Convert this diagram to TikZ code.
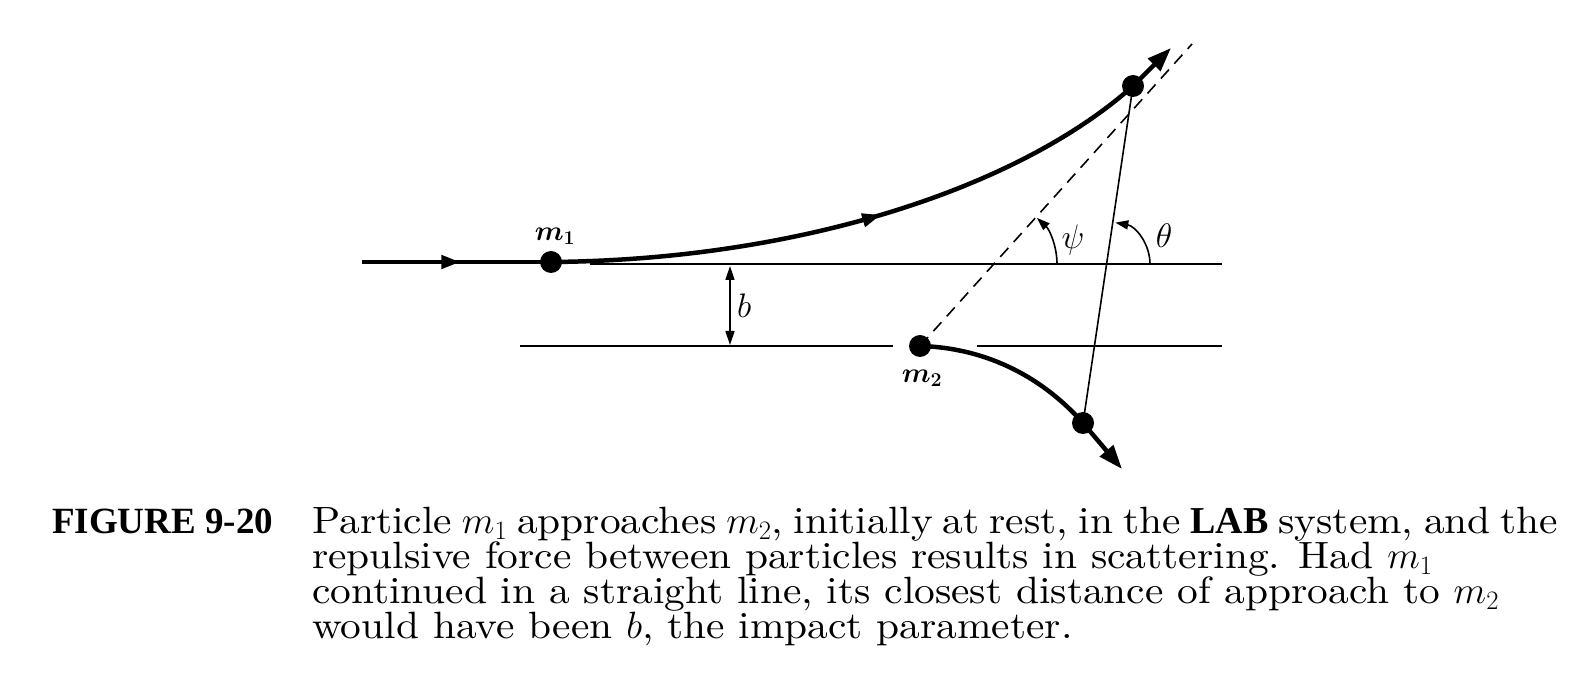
\RequirePackage{fix-cm}
\documentclass[tikz,border=0pt]{standalone}
\usepackage{fontspec}
\newfontfamily\figfont{Liberation Serif}
\newfontfamily\captfont{lmroman10-regular.otf}[BoldFont=lmroman10-bold.otf,FakeStretch=1.09]
\usetikzlibrary{arrows.meta,decorations.markings,calc}

\tikzset{
  dot/.style={circle,fill,inner sep=0pt,minimum size=22pt},
  traj/.style={line width=4.5pt},
  guide/.style={line width=1.6pt},
  midarrow/.style={postaction={decorate,decoration={markings,
    mark=at position #1 with {\arrow{Triangle[length=19pt,width=13pt]}}}}},
  endtip/.style={-{Triangle[length=24pt,width=17pt]}},
  lbl/.style={font=\fontsize{28}{32}\selectfont\boldmath},
  glbl/.style={font=\fontsize{34}{38}\selectfont},
  captext/.style={font=\fontsize{38}{35}\selectfont\captfont,inner sep=0pt}
}

\begin{document}
\begin{tikzpicture}[x=1pt,y=-1pt]
\useasboundingbox (0,0) rectangle (1575,700);

% particles, before and after
\node[dot] (m1)  at (551,262)  {};
\node[dot] (m1f) at (1133,86)  {};
\node[dot] (m2)  at (920,346)  {};
\node[dot] (m2f) at (1083,423) {};
\coordinate (in)    at (362,262);
\coordinate (m1out) at (1171,48);
\coordinate (m2out) at (1122,469);
\coordinate (asym)  at (1192,44);

% reference lines
\draw[guide] (590,264) -- (1222,264);
\draw[guide] (520,346) -- (893,346);
\draw[guide] (977,346) -- (1222,346);
\draw[guide,{Triangle[length=14pt,width=9pt]}-{Triangle[length=14pt,width=9pt]}]
  (730,266) -- (730,345) node[glbl,midway,right=3pt] {$b$};

% trajectories
\draw[traj,midarrow=0.52] (in) -- (m1.center);
\draw[traj,midarrow=0.54] (m1.center) .. controls (801,260) and (1020,187) .. (m1f.center);
\draw[traj,endtip] (m1f.center) -- (m1out);
\draw[traj] (m2.center) .. controls (990,348) and (1045,380) .. (m2f.center);
\draw[traj,endtip] (m2f.center) -- (m2out);

% asymptote and joining line
\draw[guide,dash pattern=on 12pt off 8pt] (m2.center) -- (asym);
\draw[guide] (m1f.center) -- (m2f.center);

% angles
\draw[guide,-{Triangle[length=13pt,width=9pt]}] (994,264) ++(63pt,0) arc[start angle=0,end angle=47,radius=63pt];
\draw[guide,-{Triangle[length=13pt,width=9pt]}] (1108,264) ++(42pt,0) arc[start angle=0,end angle=80,radius=42pt];

\node[glbl] (psi) at (1073,240) {$\psi$};
\node[glbl] (th)  at (1164,236) {$\theta$};
\node[lbl]  (l1)  at (555,236)  {$m_1$};
\node[lbl]  (l2)  at (922,378)  {$m_2$};

% caption
\node[captext,anchor=base west] (fig) at (52,533) {\fontsize{37}{35}\figfont\bfseries FIGURE 9-20};
\node[captext,anchor=north west,align=left] (cap) at (312,507)
  {\makebox[1246pt][s]{Particle $m_1$ approaches $m_2$, initially at rest, in the {\figfont\bfseries LAB} system, and the}\\
   repulsive force between particles results in scattering. Had $m_1$\\
   continued in a straight line, its closest distance of approach to $m_2$\\
   would have been $b$, the impact parameter.};

\end{tikzpicture}
\end{document}
